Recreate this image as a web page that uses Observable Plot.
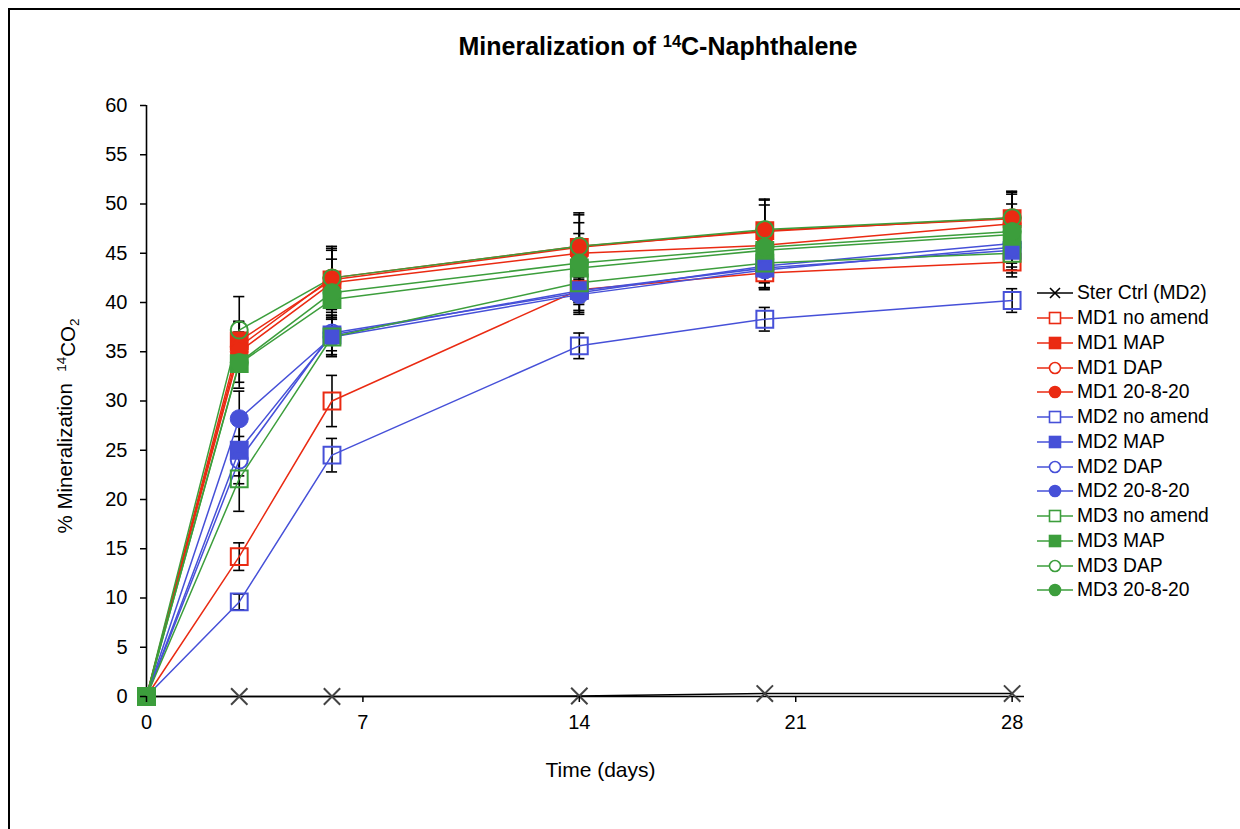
<!DOCTYPE html>
<html>
<head>
<meta charset="utf-8">
<script src="https://cdn.jsdelivr.net/npm/d3@7"></script>
<script src="https://cdn.jsdelivr.net/npm/@observablehq/plot@0.6"></script>
<style>
  html, body { margin: 0; padding: 0; background: #fff; }
  body { width: 1240px; height: 829px; overflow: hidden; position: relative; font-family: "Liberation Sans", Arial, sans-serif; }
  #frame { position: absolute; left: 8px; top: 8px; width: 1300px; height: 900px; border-left: 2px solid #000; border-top: 2px solid #000; box-sizing: border-box; }
  #title { position: absolute; left: 658px; top: 32px; transform: translateX(-50%); font-weight: bold; font-size: 25px; white-space: nowrap; color: #000; }
  #title sup { font-size: 0.66em; vertical-align: 0.5em; line-height: 0; }
  #chart { position: absolute; left: 0; top: 80px; }
  #legend { position: absolute; left: 1037px; top: 281px; }
  .row { height: 24.75px; display: flex; align-items: center; font-size: 19.3px; color: #000; white-space: nowrap; }
  .row svg { margin-right: 4px; }
</style>
</head>
<body>
<div id="frame"></div>
<div id="title">Mineralization of <sup>14</sup>C-Naphthalene</div>
<div id="chart"></div>
<div id="legend"></div>
<script>
// ---------- data ----------
const days = [0, 3, 6, 14, 20, 28];
const xTicks = [0, 7, 14, 21, 28];
const yTicks = [0, 5, 10, 15, 20, 25, 30, 35, 40, 45, 50, 55, 60];

const seriesNames = [
  "Ster Ctrl (MD2)",
  "MD1 no amend", "MD1 MAP", "MD1 DAP", "MD1 20-8-20",
  "MD2 no amend", "MD2 MAP", "MD2 DAP", "MD2 20-8-20",
  "MD3 no amend", "MD3 MAP", "MD3 DAP", "MD3 20-8-20"
];

// % mineralization at each day
const sterCtrl     = [0, 0.0, 0.0, 0.05, 0.3, 0.3];
const md1NoAmend   = [0, 14.2, 30.0, 41.3, 43.0, 44.1];
const md1MAP       = [0, 36.1, 42.3, 45.6, 47.3, 48.5];
const md1DAP       = [0, 35.5, 42.5, 45.7, 47.2, 48.6];
const md1_20820    = [0, 35.0, 42.0, 45.0, 45.8, 48.0];
const md2NoAmend   = [0, 9.6, 24.5, 35.6, 38.3, 40.2];
const md2MAP       = [0, 25.0, 36.7, 41.2, 43.5, 45.3];
const md2DAP       = [0, 24.0, 36.9, 41.0, 43.7, 46.0];
const md2_20820    = [0, 28.2, 36.5, 40.8, 43.3, 45.6];
const md3NoAmend   = [0, 22.1, 36.5, 42.0, 44.0, 45.0];
const md3MAP       = [0, 33.8, 40.3, 43.5, 45.3, 46.9];
const md3DAP       = [0, 37.2, 42.5, 45.7, 47.4, 48.6];
const md3_20820    = [0, 33.9, 41.0, 44.0, 45.6, 47.2];

// standard deviations (error bars)
const errSter      = [0, 0, 0, 0, 0, 0];
const errMd1No     = [0, 1.4, 2.6, 1.5, 1.5, 1.5];
const errMd1MAP    = [0, 2.0, 3.0, 2.5, 2.6, 2.5];
const errMd1DAP    = [0, 2.5, 3.2, 3.4, 3.3, 2.7];
const errMd1_208   = [0, 2.0, 2.4, 2.0, 2.0, 2.0];
const errMd2No     = [0, 0.8, 1.7, 1.3, 1.2, 1.2];
const errMd2MAP    = [0, 2.6, 2.0, 2.0, 2.0, 2.0];
const errMd2DAP    = [0, 2.4, 1.8, 2.0, 2.2, 2.0];
const errMd2_208   = [0, 2.8, 1.8, 2.0, 2.0, 2.0];
const errMd3No     = [0, 3.3, 2.0, 2.0, 2.0, 2.0];
const errMd3MAP    = [0, 2.5, 2.0, 2.0, 2.0, 2.0];
const errMd3DAP    = [0, 3.4, 3.0, 3.2, 3.0, 2.6];
const errMd3_208   = [0, 2.0, 2.0, 2.0, 2.0, 2.0];

const seriesValues = [sterCtrl, md1NoAmend, md1MAP, md1DAP, md1_20820,
  md2NoAmend, md2MAP, md2DAP, md2_20820, md3NoAmend, md3MAP, md3DAP, md3_20820];
const seriesErrors = [errSter, errMd1No, errMd1MAP, errMd1DAP, errMd1_208,
  errMd2No, errMd2MAP, errMd2DAP, errMd2_208, errMd3No, errMd3MAP, errMd3DAP, errMd3_208];

// ---------- styling (not data) ----------
const groupColor = { "Ster": "#000000", "MD1": "#EA2A12", "MD2": "#4650D8", "MD3": "#3C9E3C" };
function colorOf(name) { return groupColor[name.split(" ")[0]]; }
function markerOf(name) {
  if (name.startsWith("Ster")) return { symbol: "times", filled: false };
  if (name.endsWith("no amend")) return { symbol: "square", filled: false };
  if (name.endsWith("MAP")) return { symbol: "square", filled: true };
  if (name.endsWith("DAP")) return { symbol: "circle", filled: false };
  return { symbol: "circle", filled: true };
}

const rows = [];
seriesNames.forEach((name, i) => {
  days.forEach((d, j) => rows.push({ series: name, day: d, value: seriesValues[i][j], err: seriesErrors[i][j] }));
});
const errRows = rows.filter(r => r.err > 0);

// ---------- marks ----------
const marks = [];
// error bars
marks.push(Plot.ruleX(errRows, { x: "day", y1: r => r.value - r.err, y2: r => r.value + r.err, stroke: "#000", strokeWidth: 1.6 }));
marks.push(Plot.ruleY(errRows, { y: r => r.value + r.err, x1: r => r.day - 0.18, x2: r => r.day + 0.18, stroke: "#000", strokeWidth: 1.6 }));
marks.push(Plot.ruleY(errRows, { y: r => r.value - r.err, x1: r => r.day - 0.18, x2: r => r.day + 0.18, stroke: "#000", strokeWidth: 1.6 }));

// axes lines
marks.push(Plot.ruleY([0], { stroke: "#000", strokeWidth: 1.6 }));
marks.push(Plot.ruleX([0], { stroke: "#000", strokeWidth: 1.6 }));

// lines + markers per series (in series order for layering)
seriesNames.forEach(name => {
  const data = rows.filter(r => r.series === name);
  const c = colorOf(name);
  marks.push(Plot.line(data, { x: "day", y: "value", stroke: c, strokeWidth: 1.5 }));
});
seriesNames.forEach(name => {
  const data = rows.filter(r => r.series === name);
  const c = colorOf(name);
  const m = markerOf(name);
  if (m.symbol === "times") {
    marks.push(Plot.dot(data, { x: "day", y: "value", symbol: "times", r: 7.5, stroke: "#444", strokeWidth: 2 }));
  } else if (m.symbol === "square") {
    marks.push(Plot.dot(data, { x: "day", y: "value", symbol: "square", r: 9.5,
      stroke: c, strokeWidth: 2, fill: m.filled ? c : "none" }));
  } else {
    marks.push(Plot.dot(data, { x: "day", y: "value", symbol: "circle", r: m.filled ? 9 : 8.5,
      stroke: c, strokeWidth: m.filled ? 1 : 2, fill: m.filled ? c : "none" }));
  }
});

// axes
marks.push(Plot.axisY({ ticks: yTicks, tickSize: 6, tickPadding: 13, fontSize: 20, label: null, stroke: "#000", strokeWidth: 1.5 }));
marks.push(Plot.axisX({ ticks: xTicks, tickSize: 6, tickPadding: 12, fontSize: 20, label: null, stroke: "#000", strokeWidth: 1.5 }));

// axis titles
const yLabel = "% Mineralization  14CO2";
marks.push(Plot.text([yLabel], { frameAnchor: "left", textAnchor: "middle", rotate: -90, dx: -81, dy: 25, fontSize: 20.5, fill: "#000", text: d => d }));
marks.push(Plot.text(["Time (days)"], { frameAnchor: "bottom", dx: 15, dy: 80, fontSize: 21, fill: "#000", text: d => d }));

const chart = Plot.plot({
  width: 1240,
  height: 749,
  marginLeft: 146,
  marginRight: 216,
  marginTop: 25,
  marginBottom: 133,
  style: { fontFamily: "Liberation Sans, Arial, sans-serif", fontSize: "20px", color: "#000", background: "transparent", overflow: "visible" },
  x: { domain: [0, 28.4] },
  y: { domain: [0, 60] },
  marks
});
document.getElementById("chart").appendChild(chart);

// ensure tick label size
d3.select(chart).selectAll('g[aria-label="y-axis tick label"], g[aria-label="x-axis tick label"]').attr("font-size", 20);

// superscript/subscript in y label
d3.select(chart).selectAll("text").filter(function () { return this.textContent === yLabel; })
  .each(function () {
    const t = d3.select(this);
    t.text(null);
    t.append("tspan").text("% Mineralization  ");
    t.append("tspan").attr("font-size", 13.5).attr("dy", "-0.45em").text("14");
    t.append("tspan").attr("dy", "0.45em").text("CO");
    t.append("tspan").attr("font-size", 13.5).attr("dy", "0.3em").text("2");
  });

// legend
const legend = d3.select("#legend");
seriesNames.forEach(name => {
  const c = colorOf(name);
  const m = markerOf(name);
  const row = legend.append("div").attr("class", "row");
  const svg = row.append("svg").attr("width", 36).attr("height", 20);
  svg.append("line").attr("x1", 0).attr("x2", 36).attr("y1", 10).attr("y2", 10)
    .attr("stroke", c).attr("stroke-width", 1.5);
  if (m.symbol === "times") {
    svg.append("path").attr("d", "M13,5L23,15M23,5L13,15").attr("stroke", "#000").attr("stroke-width", 1.6);
  } else if (m.symbol === "square") {
    svg.append("rect").attr("x", 12.5).attr("y", 4.5).attr("width", 11).attr("height", 11)
      .attr("fill", m.filled ? c : "#fff").attr("stroke", c).attr("stroke-width", 1.6);
  } else {
    svg.append("circle").attr("cx", 18).attr("cy", 10).attr("r", 5.5)
      .attr("fill", m.filled ? c : "#fff").attr("stroke", c).attr("stroke-width", 1.6);
  }
  row.append("span").text(name);
});
</script>
</body>
</html>
